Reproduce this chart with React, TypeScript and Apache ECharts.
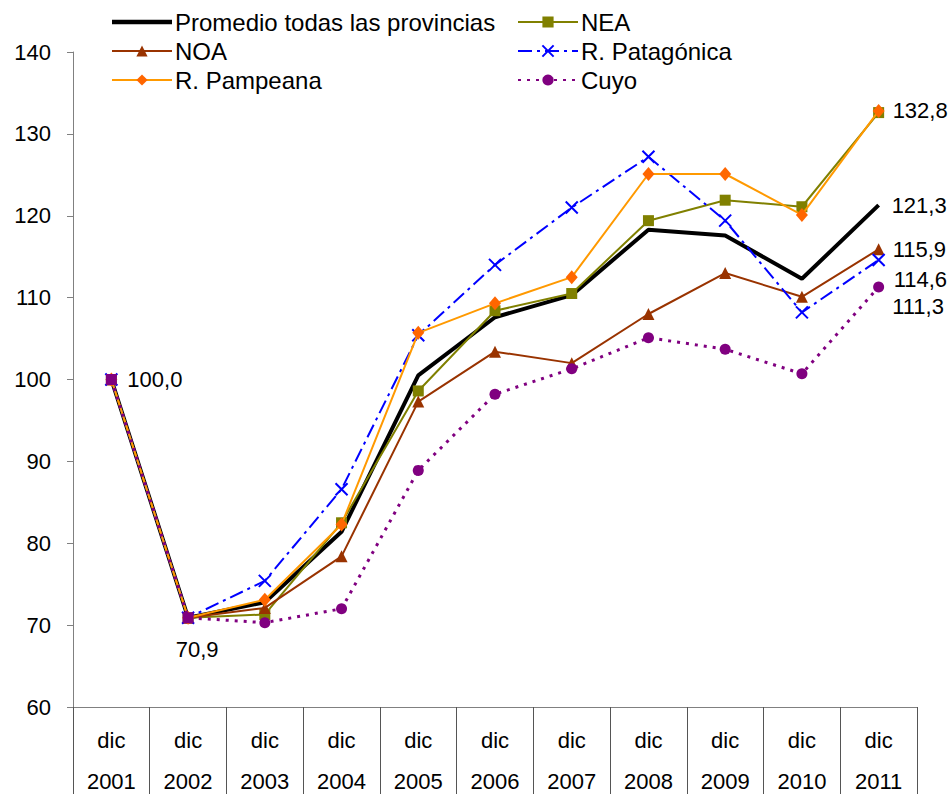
import React, { useEffect, useRef } from "react";
import * as echarts from "echarts";

const categories = ["dic\n2001", "dic\n2002", "dic\n2003", "dic\n2004", "dic\n2005", "dic\n2006", "dic\n2007", "dic\n2008", "dic\n2009", "dic\n2010", "dic\n2011"];
const promedio = [100, 70.9, 72.8, 81.4, 100.5, 107.6, 110.3, 118.3, 117.6, 112.3, 121.3];
const nea = [100, 70.9, 71.3, 82.5, 98.6, 108.4, 110.5, 119.4, 121.9, 121.1, 132.6];
const noa = [100, 70.9, 72.1, 78.4, 97.3, 103.4, 102.0, 108.0, 113.0, 110.1, 115.9];
const patagonica = [100, 70.9, 75.4, 86.6, 105.4, 114.0, 121.0, 127.2, 119.4, 108.2, 114.6];
const pampeana = [100, 70.9, 73.1, 82.3, 105.7, 109.3, 112.5, 125.1, 125.1, 120.1, 132.8];
const cuyo = [100, 70.9, 70.3, 72.0, 88.9, 98.2, 101.3, 105.1, 103.7, 100.7, 111.3];

const FONT = "Liberation Sans, Arial, sans-serif";
const fmt = (v: number) => v.toFixed(1).replace(".", ",");

export default function App() {
  const ref = useRef<HTMLDivElement>(null);
  useEffect(() => {
    if (!ref.current) return;
    const chart = echarts.init(ref.current, undefined, { renderer: "svg" });
    const lbl = (extra: any) => ({
      show: true,
      fontSize: 22,
      color: "#000",
      fontFamily: FONT,
      formatter: (p: any) => fmt(p.value),
      ...extra,
    });
    const last = categories.length - 1;
    const withLabels = (arr: number[], map: Record<number, any>) =>
      arr.map((v, i) => (map[i] ? { value: v, label: map[i] } : v));

    const legendBase = {
      orient: "vertical",
      top: 5,
      itemWidth: 60,
      itemHeight: 14,
      itemGap: 5,
      textStyle: { fontSize: 24, color: "#000", fontFamily: FONT, padding: [0, 0, 0, -2] },
    };

    const option: any = {
      animation: false,
      backgroundColor: "#fff",
      textStyle: { fontFamily: FONT },
      grid: { left: 73, right: 33, top: 52, bottom: 87, containLabel: false, outerBoundsMode: "none" },
      legend: [
        {
          ...legendBase,
          left: 106,
          data: [
            { name: "Promedio todas las provincias", icon: "path://M0,0h60v4.5h-60z" },
            "NOA",
            "R. Pampeana",
          ],
        },
        { ...legendBase, left: 512, data: ["NEA", "R. Patagónica", "Cuyo"] },
      ],
      xAxis: {
        type: "category",
        data: categories,
        boundaryGap: true,
        axisLine: { lineStyle: { color: "#808080", width: 1 } },
        axisTick: { show: true, length: 87, interval: 0, lineStyle: { color: "#555", width: 1 } },
        axisLabel: { interval: 0, fontSize: 22, lineHeight: 41, margin: 13, color: "#000", fontFamily: FONT },
        splitLine: { show: false },
      },
      yAxis: {
        type: "value",
        min: 60,
        max: 140,
        interval: 10,
        axisLine: { show: true, lineStyle: { color: "#808080", width: 1 } },
        axisTick: { show: true, length: 6, lineStyle: { color: "#808080" } },
        axisLabel: { fontSize: 22, margin: 22, color: "#000", fontFamily: FONT },
        splitLine: { show: false },
      },
      series: [
        {
          name: "Promedio todas las provincias",
          type: "line",
          data: promedio.map((v, i) => {
            const hidden = { symbol: "circle", symbolSize: 2, itemStyle: { color: "rgba(0,0,0,0)" } };
            if (i === 0) return { value: v, ...hidden, label: lbl({ position: "right", distance: 15 }) };
            if (i === 1) return { value: v, ...hidden, label: lbl({ position: "bottom", distance: 20, offset: [9, 0] }) };
            if (i === last) return { value: v, ...hidden, label: lbl({ position: "right", distance: 12 }) };
            return v;
          }),
          symbol: "none",
          lineStyle: { color: "#000", width: 4 },
          itemStyle: { color: "#000" },
          z: 2,
        },
        {
          name: "NEA",
          type: "line",
          data: nea,
          symbol: "rect",
          symbolSize: 11,
          lineStyle: { color: "#808000", width: 2 },
          itemStyle: { color: "#808000" },
          z: 3,
        },
        {
          name: "NOA",
          type: "line",
          data: withLabels(noa, { [last]: lbl({ position: "right", distance: 8 }) }),
          symbol: "triangle",
          symbolSize: 12,
          lineStyle: { color: "#993300", width: 2 },
          itemStyle: { color: "#993300" },
          z: 4,
        },
        {
          name: "R. Patagónica",
          type: "line",
          data: withLabels(patagonica, { [last]: lbl({ position: "right", distance: 8, offset: [0, 20] }) }),
          symbol: "path://M0,0L10,10M10,0L0,10",
          symbolSize: 12,
          lineStyle: { color: "#0000FF", width: 2, type: [14, 5, 3, 5] },
          itemStyle: { color: "#0000FF", borderColor: "#0000FF", borderWidth: 2 },
          z: 5,
        },
        {
          name: "R. Pampeana",
          type: "line",
          data: withLabels(pampeana, { [last]: lbl({ position: "right", distance: 8 }) }),
          symbol: "diamond",
          symbolSize: [12, 14],
          lineStyle: { color: "#FF9900", width: 2 },
          itemStyle: { color: "#FF6600" },
          z: 6,
        },
        {
          name: "Cuyo",
          type: "line",
          data: cuyo.map((v, i) => {
            if (i < 2) return { value: v, symbol: "rect", symbolSize: 11 };
            if (i === last) return { value: v, label: lbl({ position: "right", distance: 8, offset: [0, 20] }) };
            return v;
          }),
          symbol: "circle",
          symbolSize: 11,
          lineStyle: { color: "#800080", width: 3, type: [3, 6] },
          itemStyle: { color: "#800080" },
          z: 7,
        },
      ],
    };
    chart.setOption(option);
    return () => chart.dispose();
  }, []);
  return <div ref={ref} style={{ width: 950, height: 794, position: "absolute", left: 0, top: 0 }} />;
}
